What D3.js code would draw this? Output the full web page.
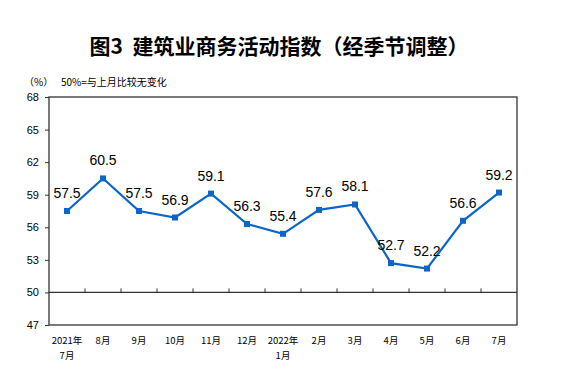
<!DOCTYPE html>
<html>
<head>
<meta charset="utf-8">
<script src="https://cdn.jsdelivr.net/npm/d3@7"></script>
<style>
  body { margin: 0; background: #fff; }
  text { font-family: "Liberation Sans", Arial, "Noto Sans CJK SC", sans-serif; }
</style>
</head>
<body>
<div class="chart"></div>
<script>
// chart data
var months = ["2021年\n7月", "8月", "9月", "10月", "11月", "12月", "2022年\n1月", "2月", "3月", "4月", "5月", "6月", "7月"];
var values = [57.5, 60.5, 57.5, 56.9, 59.1, 56.3, 55.4, 57.6, 58.1, 52.7, 52.2, 56.6, 59.2];
var yTicks = [47, 50, 53, 56, 59, 62, 65, 68];

var svgWidth = 562;
var svgHeight = 381;

// plot area
var margin = { top: 97, right: 45, bottom: 56, left: 49 };
var width = svgWidth - margin.left - margin.right;
var height = svgHeight - margin.top - margin.bottom;

var svg = d3.select(".chart")
  .append("svg")
  .attr("width", svgWidth)
  .attr("height", svgHeight);

// title
svg.append("text")
  .attr("x", 279)
  .attr("y", 54)
  .attr("text-anchor", "middle")
  .style("font-family", "'Noto Sans CJK SC', sans-serif")
  .style("font-size", "21px")
  .style("font-weight", "bold")
  .style("white-space", "pre")
  .text("图3  建筑业商务活动指数（经季节调整）");

svg.append("text")
  .attr("x", 24)
  .attr("y", 86)
  .style("font-size", "10px")
  .style("font-family", "'Noto Sans CJK SC', sans-serif")
  .text("（%）");

svg.append("text")
  .attr("x", 61)
  .attr("y", 86)
  .style("font-size", "10px")
  .style("font-family", "'Noto Sans CJK SC', sans-serif")
  .text("50%=与上月比较无变化");

var chartGroup = svg.append("g")
  .attr("transform", `translate(${margin.left}, ${margin.top})`);

var xScale = d3.scaleBand()
  .domain(months)
  .range([0, width]);

var yScale = d3.scaleLinear()
  .domain([47, 68])
  .range([height, 0]);

// frame
chartGroup.append("rect")
  .attr("width", width)
  .attr("height", height)
  .attr("fill", "none")
  .attr("stroke", "#333")
  .attr("stroke-width", 1.3);

// y axis
var leftAxis = d3.axisLeft(yScale)
  .tickValues(yTicks)
  .tickSize(4)
  .tickSizeOuter(0);
var yAxis = chartGroup.append("g").call(leftAxis);
yAxis.select(".domain").remove();
yAxis.selectAll("line").attr("stroke", "#333");
yAxis.selectAll("text")
  .attr("x", -10)
  .style("font-size", "11px")
  .style("font-family", "'Liberation Sans', Arial, sans-serif")
  .attr("fill", "#000");

// 50 line with ticks pointing up
var y50 = yScale(50);
chartGroup.append("line")
  .attr("x1", 0).attr("x2", width)
  .attr("y1", y50).attr("y2", y50)
  .attr("stroke", "#333")
  .attr("stroke-width", 1.3);

chartGroup.selectAll(".xtick")
  .data(months.slice(1))
  .enter()
  .append("line")
  .attr("x1", d => xScale(d))
  .attr("x2", d => xScale(d))
  .attr("y1", y50)
  .attr("y2", y50 - 4)
  .attr("stroke", "#333");

// x labels
var xLabels = chartGroup.selectAll(".xlabel")
  .data(months)
  .enter()
  .append("text")
  .attr("text-anchor", "middle")
  .attr("transform", d => `translate(${xScale(d) + xScale.bandwidth() / 2}, ${height + 19})`)
  .style("font-size", "9.5px")
  .style("font-family", "'Noto Sans CJK SC', sans-serif");

xLabels.each(function(d) {
  var lines = d.split("\n");
  var t = d3.select(this);
  lines.forEach(function(l, i) {
    t.append("tspan")
      .attr("x", 0)
      .attr("dy", i === 0 ? 0 : 15)
      .text(l);
  });
});

// line
var line = d3.line()
  .x((d, i) => xScale(months[i]) + xScale.bandwidth() / 2)
  .y(d => yScale(d));

chartGroup.append("path")
  .datum(values)
  .attr("d", line)
  .attr("fill", "none")
  .attr("stroke", "#0a66c8")
  .attr("stroke-width", 2.2);

chartGroup.selectAll(".pt")
  .data(values)
  .enter()
  .append("rect")
  .attr("x", (d, i) => xScale(months[i]) + xScale.bandwidth() / 2 - 3)
  .attr("y", d => yScale(d) - 3)
  .attr("width", 6)
  .attr("height", 6)
  .attr("fill", "#0a66c8");

// value labels
chartGroup.selectAll(".val")
  .data(values)
  .enter()
  .append("text")
  .attr("x", (d, i) => xScale(months[i]) + xScale.bandwidth() / 2)
  .attr("y", d => yScale(d) - 13)
  .attr("text-anchor", "middle")
  .style("font-size", "14px")
  .text(d => d.toFixed(1));
</script>
</body>
</html>
